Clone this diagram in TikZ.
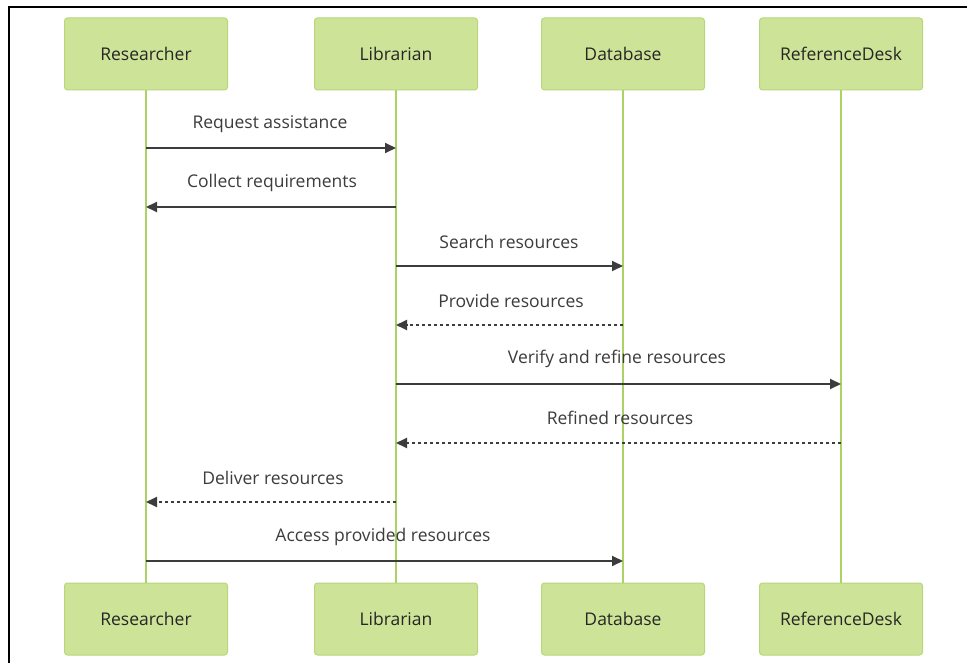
\documentclass[tikz,border=0pt]{standalone}
\usepackage{fontspec}
\setmainfont{Open Sans}
\usetikzlibrary{arrows.meta}
\definecolor{actfill}{RGB}{205,228,152}
\definecolor{actdraw}{RGB}{184,214,122}
\definecolor{lifecol}{RGB}{172,210,102}
\definecolor{msgcol}{RGB}{60,60,60}
\definecolor{txtcol}{RGB}{60,60,60}
\tikzset{
  actor/.style={draw=actdraw, fill=actfill, line width=1pt, rounded corners=3pt,
    minimum width=163pt, minimum height=72pt, inner sep=0pt,
    font=\fontsize{17.5}{21}\selectfont, text=black!85},
  lifeline/.style={draw=lifecol, line width=1.6pt},
  msg/.style={draw=msgcol, line width=1.8pt, -{Triangle[length=11pt,width=10pt]}},
  reply/.style={msg, dash pattern=on 3pt off 3pt},
  lbl/.style={font=\fontsize{17.5}{21}\selectfont, text=txtcol, inner sep=0pt},
  frameline/.style={draw=black, line width=2pt}
}
\begin{document}
\begin{tikzpicture}[x=1pt,y=-1pt]
\useasboundingbox (0,0) rectangle (967,663);
\fill[white] (0,0) rectangle (967,663);
\draw[frameline] (9,663) -- (9,7) -- (967,7);
% top actors
\node[actor] (rt) at (146,54) {Researcher};
\node[actor] (lt) at (396,54) {Librarian};
\node[actor] (dt) at (623,54) {Database};
\node[actor] (ft) at (841,54) {ReferenceDesk};
% bottom actors
\node[actor] (rb) at (146,619) {Researcher};
\node[actor] (lb) at (396,619) {Librarian};
\node[actor] (db) at (623,619) {Database};
\node[actor] (fb) at (841,619) {ReferenceDesk};
% lifelines
\draw[lifeline] (rt.south) -- (rb.north);
\draw[lifeline] (lt.south) -- (lb.north);
\draw[lifeline] (dt.south) -- (db.north);
\draw[lifeline] (ft.south) -- (fb.north);
% message anchors
\foreach \n/\x in {r/146,l/396,d/623,f/841}{
  \foreach \k/\y in {1/148,2/207,3/266,4/325,5/384,6/443,7/502,8/561}{
    \coordinate (\n\k) at (\x,\y);
  }
}
\draw[msg] (r1) -- (l1);
\node[lbl] (m1) at (270,124) {Request assistance};
\draw[msg] (l2) -- (r2);
\node[lbl] (m2) at (272,183) {Collect requirements};
\draw[msg] (l3) -- (d3);
\node[lbl] (m3) at (509,242) {Search resources};
\draw[reply] (d4) -- (l4);
\node[lbl] (m4) at (511,301) {Provide resources};
\draw[msg] (l5) -- (f5);
\node[lbl] (m5) at (617,359) {Verify and refine resources};
\draw[reply] (f6) -- (l6);
\node[lbl] (m6) at (620,418) {Refined resources};
\draw[reply] (l7) -- (r7);
\node[lbl] (m7) at (273,478) {Deliver resources};
\draw[msg] (r8) -- (d8);
\node[lbl] (m8) at (383,537) {Access provided resources};
\end{tikzpicture}
\end{document}
